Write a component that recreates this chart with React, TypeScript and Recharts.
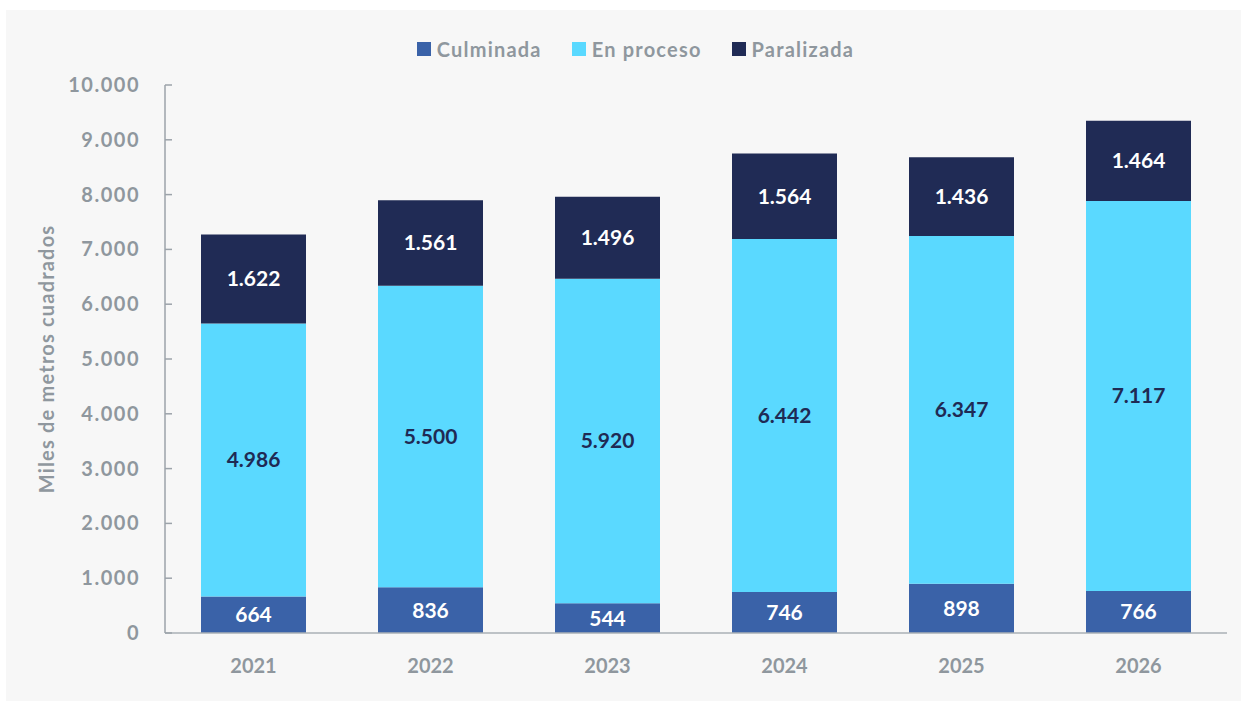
import React from 'react';
import { BarChart, Bar, XAxis, YAxis, Legend, LabelList } from 'recharts';

// Años y superficie (miles de m²) por estado de obra
const YEARS = ['2021', '2022', '2023', '2024', '2025', '2026'];
const CULMINADA = [664, 836, 544, 746, 898, 766];
const EN_PROCESO = [4986, 5500, 5920, 6442, 6347, 7117];
const PARALIZADA = [1622, 1561, 1496, 1564, 1436, 1464];
const Y_TICKS = [0, 1000, 2000, 3000, 4000, 5000, 6000, 7000, 8000, 9000, 10000];

const SERIES = [
  { key: 'culminada', name: 'Culminada', color: '#3a62a8', labelColor: '#ffffff' },
  { key: 'enProceso', name: 'En proceso', color: '#5ad9ff', labelColor: '#1f2a54' },
  { key: 'paralizada', name: 'Paralizada', color: '#202b55', labelColor: '#ffffff' },
];

const FONT = 'Lato, "Open Sans", sans-serif';
const GRAY = '#8f979e';

const data = YEARS.map((year, i) => ({
  year,
  culminada: CULMINADA[i],
  enProceso: EN_PROCESO[i],
  paralizada: PARALIZADA[i],
}));

// 1234 -> "1.234"
const fmt = (v: any) => String(v).replace(/\B(?=(\d{3})+(?!\d))/g, '.');

const YTick = (props: any) => {
  const { x, y, payload } = props;
  return (
    <g>
      <line x1={x} x2={x + 7} y1={y} y2={y} stroke="#9ca3aa" strokeWidth={1.5} />
      <text
        x={x - 25}
        y={y}
        dy={7}
        textAnchor="end"
        fill={GRAY}
        fontSize={20}
        fontWeight={700}
        fontFamily={FONT}
        letterSpacing={1.5}
      >
        {fmt(payload.value)}
      </text>
    </g>
  );
};

const LegendContent = () => (
  <div style={{ display: 'flex', justifyContent: 'center', paddingLeft: 54, fontFamily: FONT }}>
    {SERIES.map((s) => (
      <div key={s.key} style={{ display: 'flex', alignItems: 'center', marginRight: 30 }}>
        <span style={{ width: 14, height: 14, background: s.color, display: 'inline-block', marginRight: 6 }} />
        <span style={{ color: GRAY, fontSize: 20, fontWeight: 700, letterSpacing: 1.2 }}>{s.name}</span>
      </div>
    ))}
  </div>
);

export default function App() {
  return (
    <div style={{ position: 'absolute', left: 0, top: 0, width: 1247, height: 704, background: '#ffffff' }}>
      <div style={{ position: 'absolute', left: 6, top: 10, width: 1235, height: 691, background: '#f7f7f7' }} />
      <div style={{ position: 'absolute', left: 0, top: 0 }}>
        <BarChart
          width={1247}
          height={704}
          data={data}
          margin={{ top: 61, right: 20, bottom: 21, left: 0 }}
          barCategoryGap={36}
        >
          <Legend
            verticalAlign="top"
            content={<LegendContent />}
            wrapperStyle={{ top: 37, left: 0, width: 1247 }}
          />
          <XAxis
            dataKey="year"
            height={50}
            axisLine={{ stroke: '#aab0b6', strokeWidth: 1.5 }}
            tickLine={false}
            tickSize={0}
            tickMargin={26}
            tick={{ fill: GRAY, fontSize: 20, fontWeight: 700, fontFamily: FONT }}
          />
          <YAxis
            width={165}
            domain={[0, 10000]}
            ticks={Y_TICKS}
            interval={0}
            axisLine={{ stroke: '#9ca3aa', strokeWidth: 1.5 }}
            tickLine={false}
            tickSize={0}
            tickMargin={0}
            tick={<YTick />}
            label={{
              value: 'Miles de metros cuadrados',
              angle: -90,
              position: 'insideLeft',
              offset: 47,
              textAnchor: 'middle',
              fill: GRAY,
              fontSize: 20,
              fontWeight: 700,
              fontFamily: FONT,
              letterSpacing: 1.2,
            }}
          />
          {SERIES.map((s) => (
            <Bar key={s.key} dataKey={s.key} name={s.name} stackId="a" fill={s.color} isAnimationActive={false}>
              <LabelList
                dataKey={s.key}
                position="center"
                formatter={fmt}
                fill={s.labelColor}
                fontSize={21}
                fontWeight={700}
                fontFamily={FONT}
              />
            </Bar>
          ))}
        </BarChart>
      </div>
    </div>
  );
}
